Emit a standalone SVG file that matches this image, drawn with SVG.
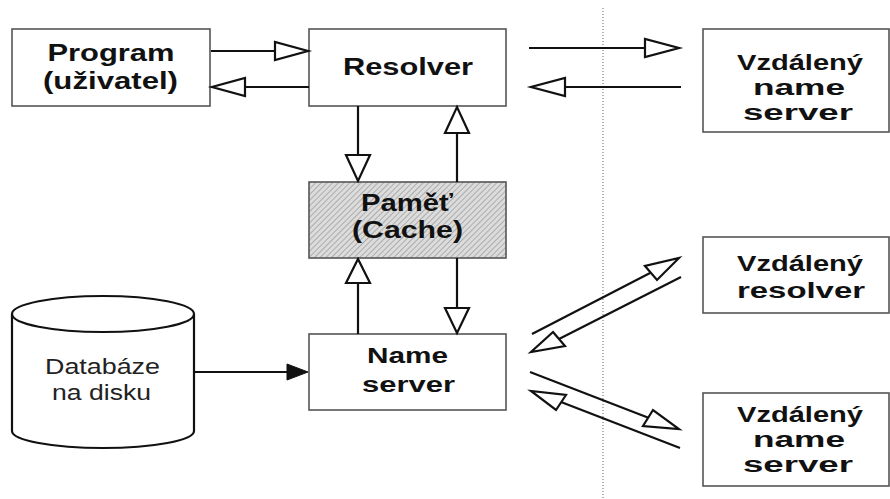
<svg xmlns="http://www.w3.org/2000/svg" width="890" height="499" viewBox="0 0 890 499">
<defs>
<pattern id="hatch" width="4" height="4" patternUnits="userSpaceOnUse" patternTransform="rotate(45)">
<rect width="4" height="4" fill="#dcdcdc"/>
<line x1="0" y1="0" x2="0" y2="4" stroke="#8c8c8c" stroke-width="1.2"/>
</pattern>
<style>
.box{fill:#fff;stroke:#555;stroke-width:1.6}
.cache{fill:url(#hatch);stroke:#555;stroke-width:1.6}
.t{font-family:"Liberation Sans",Arial,sans-serif;font-weight:bold;fill:#111;text-anchor:middle}
.tn{font-family:"Liberation Sans",Arial,sans-serif;font-weight:normal;fill:#222;text-anchor:middle}
.r{font-size:22px}
.ln{stroke:#111;stroke-width:2.2;fill:none}
.hd{fill:#fff;stroke:#111;stroke-width:2.2;stroke-linejoin:miter}
.hf{fill:#111;stroke:#111;stroke-width:1}
.cyl{fill:#fff;stroke:#111;stroke-width:2.2}
.sep{stroke:#999;stroke-width:1.5;stroke-dasharray:1 2;fill:none}
</style>
</defs>
<line class="sep" x1="603" y1="8" x2="603" y2="499"/>
<g id="program">
<rect class="box" x="12" y="29" width="198" height="77"/>
<text class="t" x="111" y="61" font-size="23" textLength="127" lengthAdjust="spacingAndGlyphs">Program</text>
<text class="t" x="110.5" y="89" font-size="23" textLength="135" lengthAdjust="spacingAndGlyphs">(uživatel)</text>
</g>
<g id="resolver">
<rect class="box" x="309" y="29" width="197" height="77"/>
<text class="t" x="408" y="75" font-size="23" textLength="130" lengthAdjust="spacingAndGlyphs">Resolver</text>
</g>
<g id="cache">
<rect class="cache" x="309" y="182" width="197" height="76"/>
<text class="t" x="407" y="211" font-size="23" textLength="92" lengthAdjust="spacingAndGlyphs">Paměť</text>
<text class="t" x="407.5" y="238" font-size="23" textLength="111" lengthAdjust="spacingAndGlyphs">(Cache)</text>
</g>
<g id="nameserver">
<rect class="box" x="309" y="334" width="197" height="76"/>
<text class="t" x="407.5" y="363" font-size="22" textLength="81" lengthAdjust="spacingAndGlyphs">Name</text>
<text class="t" x="408.5" y="392" font-size="22" textLength="93" lengthAdjust="spacingAndGlyphs">server</text>
</g>
<g id="database">
<path class="cyl" d="M12,314 L12,431 A91,17 0 0 0 194,431 L194,314 A91,18 0 0 0 12,314 Z"/>
<path class="cyl" d="M12,314 A91,18 0 0 0 194,314"/>
<text class="tn" x="102.5" y="374" font-size="22" textLength="115" lengthAdjust="spacingAndGlyphs">Databáze</text>
<text class="tn" x="101.5" y="400" font-size="22" textLength="99" lengthAdjust="spacingAndGlyphs">na disku</text>
</g>
<g id="remote-ns1">
<rect class="box" x="703" y="29" width="186" height="103"/>
<text class="t r" x="800" y="70" textLength="126" lengthAdjust="spacingAndGlyphs">Vzdálený</text>
<text class="t r" x="799" y="95" textLength="92" lengthAdjust="spacingAndGlyphs">name</text>
<text class="t r" x="798" y="120" textLength="110" lengthAdjust="spacingAndGlyphs">server</text>
</g>
<g id="remote-resolver">
<rect class="box" x="703" y="237" width="186" height="76"/>
<text class="t r" x="800" y="271" textLength="126" lengthAdjust="spacingAndGlyphs">Vzdálený</text>
<text class="t r" x="801" y="298" textLength="128" lengthAdjust="spacingAndGlyphs">resolver</text>
</g>
<g id="remote-ns2">
<rect class="box" x="703" y="393" width="186" height="93"/>
<text class="t r" x="800" y="422" textLength="126" lengthAdjust="spacingAndGlyphs">Vzdálený</text>
<text class="t r" x="799" y="447" textLength="92" lengthAdjust="spacingAndGlyphs">name</text>
<text class="t r" x="798" y="472" textLength="110" lengthAdjust="spacingAndGlyphs">server</text>
</g>
<g id="connectors">
<line class="ln" x1="211" y1="51" x2="276" y2="51"/>
<polygon class="hd" points="275,42 275,60 308,51"/>
<line class="ln" x1="309" y1="87" x2="244" y2="87"/>
<polygon class="hd" points="245,78 245,96 212,87"/>
<line class="ln" x1="358" y1="106" x2="358" y2="156"/>
<polygon class="hd" points="346,155 370,155 358,181"/>
<line class="ln" x1="457" y1="182" x2="457" y2="132"/>
<polygon class="hd" points="445,133 469,133 457,107"/>
<line class="ln" x1="358" y1="334" x2="358" y2="282"/>
<polygon class="hd" points="346,283 370,283 358,259"/>
<line class="ln" x1="457" y1="258" x2="457" y2="309"/>
<polygon class="hd" points="445,308 469,308 457,333"/>
<line class="ln" x1="194" y1="372" x2="290" y2="372"/>
<polygon class="hf" points="287,364 287,380 308,372"/>
<line class="ln" x1="529" y1="48" x2="646" y2="48"/>
<polygon class="hd" points="645,39 645,57 679,48"/>
<line class="ln" x1="681" y1="87" x2="564" y2="87"/>
<polygon class="hd" points="565,78 565,96 531,87"/>
<line class="ln" x1="532" y1="334" x2="652" y2="272"/>
<polygon class="hd" points="645,266 657,280 679,258"/>
<line class="ln" x1="681" y1="277" x2="559" y2="339"/>
<polygon class="hd" points="553,332 565,346 531,352"/>
<line class="ln" x1="530" y1="372" x2="649" y2="418"/>
<polygon class="hd" points="653,410 643,426 679,429"/>
<line class="ln" x1="680" y1="448" x2="561" y2="402"/>
<polygon class="hd" points="566,395 556,410 531,391"/>
</g>
</svg>
